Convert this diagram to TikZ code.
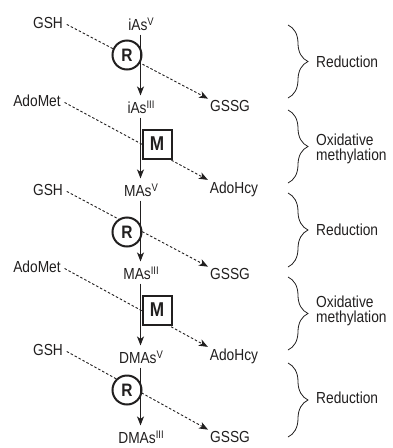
\documentclass[tikz,border=0pt]{standalone}
\usepackage{fontspec}
\setmainfont[FakeStretch=0.86]{Liberation Sans}
\usetikzlibrary{arrows.meta,decorations.pathreplacing}
\definecolor{ink}{rgb}{0.13,0.12,0.12}
\newcommand{\oxsup}[1]{\raisebox{5pt}{\fontsize{11}{11}\selectfont #1}}
\begin{document}
\begin{tikzpicture}[x=1pt,y=-1pt,
  lbl/.style={inner sep=1pt, font=\fontsize{16}{17}\selectfont, text=ink},
  rnode/.style={circle, draw=ink, line width=2pt, fill=white, minimum size=29pt, inner sep=0pt, font=\fontsize{18}{18}\selectfont\bfseries, text=ink},
  mnode/.style={rectangle, draw=ink, line width=2pt, fill=white, minimum size=29pt, inner sep=0pt, font=\fontsize{20}{20}\selectfont\bfseries, text=ink},
  flow/.style={draw=ink, line width=1.1pt, shorten <=3pt, shorten >=4pt, -{Stealth[length=9pt,width=7pt,inset=2.5pt]}},
  side/.style={draw=ink, line width=0.9pt, dash pattern=on 2.5pt off 2pt, shorten <=3pt, shorten >=1pt, -{Stealth[length=9pt,width=7pt,inset=2.5pt]}},
  brc/.style={draw=ink, line width=0.8pt, decorate, decoration={brace, amplitude=20pt}},
]
\useasboundingbox (0,0) rectangle (393,448);

% main column labels
\node[lbl] (iAsV)    at (141,24)  {iAs\oxsup{V}};
\node[lbl] (iAsIII)  at (141,107) {iAs\oxsup{III}};
\node[lbl] (MAsV)    at (141,190) {MAs\oxsup{V}};
\node[lbl] (MAsIII)  at (141,273) {MAs\oxsup{III}};
\node[lbl] (DMAsV)   at (141,357) {DMAs\oxsup{V}};
\node[lbl] (DMAsIII) at (141,437) {DMAs\oxsup{III}};

% side substrates / products
\node[lbl] (GSH1)    at (48,23)   {GSH};
\node[lbl] (GSSG1)   at (230,106) {GSSG};
\node[lbl] (AdoMet1) at (37,101)  {AdoMet};
\node[lbl] (AdoHcy1) at (234,189) {AdoHcy};
\node[lbl] (GSH2)    at (48,190)  {GSH};
\node[lbl] (GSSG2)   at (230,274) {GSSG};
\node[lbl] (AdoMet2) at (37,267)  {AdoMet};
\node[lbl] (AdoHcy2) at (234,356) {AdoHcy};
\node[lbl] (GSH3)    at (48,350)  {GSH};
\node[lbl] (GSSG3)   at (230,437) {GSSG};

% dashed co-substrate lines (behind enzymes)
\draw[side] (GSH1.east) -- (GSSG1.north west);
\draw[side] (AdoMet1.east) -- (AdoHcy1.north west);
\draw[side] (GSH2.east) -- (GSSG2.north west);
\draw[side] (AdoMet2.east) -- (AdoHcy2.north west);
\draw[side] (GSH3.east) -- (GSSG3.north west);

% enzymes
\node[rnode] (R1) at (127,55)  {R};
\node[mnode] (M1) at (157,144) {M};
\node[rnode] (R2) at (127,232) {R};
\node[mnode] (M2) at (157,310) {M};
\node[rnode] (R3) at (127,390) {R};

% main flow (vertical line at x = 140)
\draw[flow] (iAsV.south -| R1.east) ++(-2,0) coordinate (v1s) -- (v1s |- iAsIII.north);
\draw[flow] (iAsIII.south -| v1s) -- (v1s |- MAsV.north);
\draw[flow] (MAsV.south -| v1s) -- (v1s |- MAsIII.north);
\draw[flow] (MAsIII.south -| v1s) -- (v1s |- DMAsV.north);
\draw[flow] (DMAsV.south -| v1s) -- (v1s |- DMAsIII.north);

% braces
\coordinate (b1t) at (288,25);  \coordinate (b1b) at (288,98);
\coordinate (b2t) at (288,110); \coordinate (b2b) at (288,183);
\coordinate (b3t) at (288,193); \coordinate (b3b) at (288,267);
\coordinate (b4t) at (288,277); \coordinate (b4b) at (288,350);
\coordinate (b5t) at (288,363); \coordinate (b5b) at (288,437);
\draw[brc] (b1t) -- (b1b);
\draw[brc] (b2t) -- (b2b);
\draw[brc] (b3t) -- (b3b);
\draw[brc] (b4t) -- (b4b);
\draw[brc] (b5t) -- (b5b);

\node[lbl, anchor=west] (red1) at (315,62) {Reduction};
\node[lbl, anchor=west, align=left, font=\fontsize{16}{15}\selectfont] (ox1) at (315,149) {Oxidative\\methylation};
\node[lbl, anchor=west] (red2) at (315,230) {Reduction};
\node[lbl, anchor=west, align=left, font=\fontsize{16}{15}\selectfont] (ox2) at (315,311) {Oxidative\\methylation};
\node[lbl, anchor=west] (red3) at (315,398) {Reduction};
\end{tikzpicture}
\end{document}
